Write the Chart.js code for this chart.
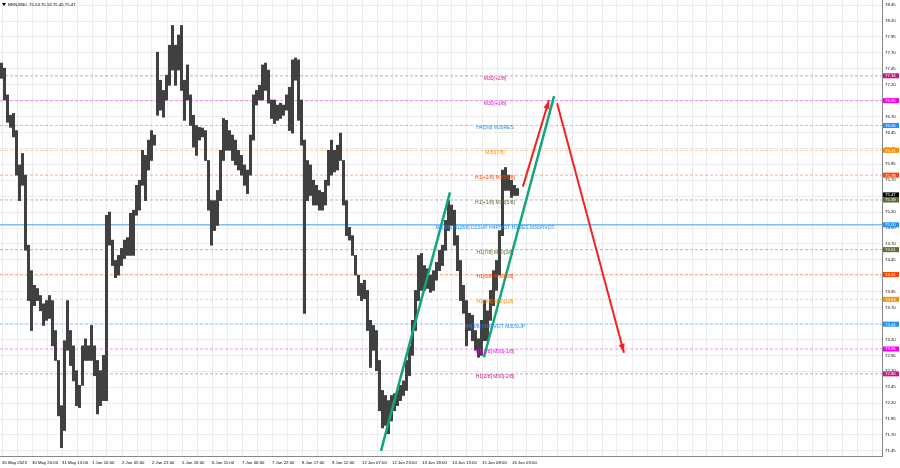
<!DOCTYPE html>
<html lang="en">
<head>
<meta charset="UTF-8">
<title>BRN,M30</title>
<script src="https://cdn.jsdelivr.net/npm/chart.js"></script>
<style>
  body { margin: 0; background: #fff; }
  #wrap { width: 900px; height: 468px; position: relative; }
</style>
</head>
<body>
<div id="wrap"><canvas id="chart"></canvas></div>
<script>
  // time labels under the chart (one every 10 columns)
  const timeLabels = ['30 May 2023', '30 May 20:00', '31 May 15:00', '1 Jun 10:00', '2 Jun 05:00',
    '2 Jun 21:00', '5 Jun 16:00', '6 Jun 11:00', '7 Jun 06:00', '7 Jun 22:00', '8 Jun 17:00',
    '9 Jun 12:00', '12 Jun 07:00', '12 Jun 23:00', '13 Jun 18:00', '14 Jun 13:00', '15 Jun 08:00',
    '16 Jun 03:00'];

  const yTicks = [78.45, 78.20, 77.95, 77.70, 77.45, 77.20, 76.95, 76.70, 76.45, 76.20, 75.95,
    75.70, 75.45, 75.20, 74.95, 74.70, 74.45, 74.20, 73.95, 73.70, 73.45, 73.20, 72.95, 72.70,
    72.45, 72.20, 71.95, 71.70, 71.45];

  // price range of each column (high / low)
  const highs = [77.54, 77.46, 77.04, 76.72, 76.75, 76.48, 75.94, 76.12, 75.78, 74.68,
    74.28, 74.05, 74.00, 73.89, 73.76, 73.81, 73.89, 73.81, 73.34, 72.87,
    72.16, 73.18, 73.81, 73.34, 73.10, 72.71, 72.48, 73.10, 73.21, 73.10,
    73.42, 73.10, 72.87, 72.71, 72.95, 75.15, 75.20, 74.76, 74.44, 74.52,
    74.63, 74.76, 74.80, 75.18, 75.23, 75.62, 75.70, 76.17, 76.09, 76.33,
    76.48, 76.41, 77.71, 77.27, 77.11, 77.35, 77.82, 78.13, 77.82, 77.98,
    78.13, 77.27, 77.51, 77.04, 76.72, 76.56, 76.53, 76.52, 76.48, 76.01,
    75.38, 75.38, 75.54, 76.17, 76.67, 76.64, 76.48, 76.41, 76.33, 76.17,
    76.09, 75.94, 75.86, 76.41, 77.04, 77.11, 77.19, 77.51, 77.54, 77.43,
    76.96, 76.96, 76.88, 76.91, 76.88, 77.04, 77.16, 77.59, 77.62, 77.59,
    76.96, 76.33, 76.01, 75.94, 75.70, 75.62, 75.54, 75.51, 75.70, 76.17,
    76.33, 76.17, 76.25, 76.44, 76.01, 75.38, 74.96, 74.83, 74.52, 74.21,
    74.08, 74.13, 73.97, 73.50, 73.42, 73.34, 72.87, 72.40, 72.32, 72.24,
    72.32, 72.35, 72.40, 72.48, 72.55, 72.87, 73.10, 73.50, 73.97, 74.52,
    74.55, 74.36, 74.31, 74.21, 74.28, 74.41, 74.60, 74.68, 75.07, 75.38,
    75.31, 75.23, 74.83, 74.44, 74.05, 73.81, 73.61, 73.58, 73.34, 73.21,
    73.50, 73.81, 73.65, 73.97, 74.28, 74.44, 74.91, 75.86, 75.90, 75.78,
    75.70, 75.62, 75.57];
  const lows = [77.30, 76.96, 76.61, 76.53, 76.38, 75.78, 75.38, 75.62, 74.60, 73.81,
    73.34, 73.73, 73.81, 73.65, 73.42, 73.50, 73.53, 73.10, 72.87, 72.00,
    71.50, 71.77, 73.03, 72.79, 72.55, 72.16, 72.13, 72.48, 72.87, 72.87,
    72.87, 72.63, 72.03, 72.16, 72.24, 72.24, 74.68, 74.36, 74.17, 74.21,
    74.36, 74.47, 74.52, 74.52, 74.52, 75.15, 75.23, 75.62, 75.38, 75.86,
    76.01, 76.25, 76.72, 76.80, 76.69, 76.96, 77.19, 77.43, 77.19, 77.43,
    77.11, 76.64, 76.96, 76.56, 76.22, 76.09, 76.33, 76.38, 76.01, 75.23,
    74.68, 74.91, 74.99, 75.38, 76.01, 76.17, 76.17, 76.01, 75.94, 75.86,
    75.78, 75.62, 75.49, 75.78, 76.33, 76.88, 76.96, 76.96, 77.11, 76.91,
    76.67, 76.59, 76.64, 76.67, 76.72, 76.80, 76.48, 76.44, 77.27, 76.64,
    76.25, 73.61, 75.38, 75.46, 75.31, 75.31, 75.23, 75.23, 75.31, 75.62,
    75.78, 75.83, 75.86, 76.01, 75.31, 74.83, 74.76, 74.52, 74.21, 73.89,
    73.81, 73.84, 73.34, 72.76, 73.03, 72.71, 72.08, 71.81, 71.85, 71.72,
    71.92, 72.08, 72.16, 72.24, 72.32, 72.40, 72.63, 72.95, 73.34, 73.81,
    73.97, 73.97, 74.00, 73.94, 73.97, 74.13, 74.28, 74.36, 74.60, 74.91,
    74.99, 74.68, 74.28, 73.81, 73.61, 73.10, 73.34, 73.18, 73.03, 72.92,
    72.95, 73.18, 73.18, 73.50, 73.73, 73.97, 74.21, 74.83, 75.54, 75.54,
    75.43, 75.46, 75.46];

  // level lines
  const levels = [77.34, 76.95, 76.56, 76.17, 75.78, 75.39, 75.00, 74.61, 74.22, 73.83, 73.44, 73.05, 72.66];
  const levelColors = ['#c71585', '#ee00ee', '#1e90ff', '#ff8c00', '#ff4500', '#556b2f', '#1e90ff',
    '#556b2f', '#ff4500', '#ff8c00', '#1e90ff', '#ee00ee', '#c71585'];
  const levelNames = ['M30[+2/8]', 'M30[+1/8]', 'H4[5/8] M30RES', 'M30[7/8]', 'H1[+2/8] M30[6/8]',
    'H1[+1/8] M30[5/8]', 'M1[8/8] H1[8/8] D1SUP H4PIVOT H1RES M30PIVOT', 'H1[7/8] M30[3/8]',
    'H1[6/8] M30[2/8]', 'H1[5/8] M30[1/8]', 'H4[3/8] H1PIVOT M30SUP', 'H1[3/8] M30[-1/8]',
    'H1[2/8] M30[-2/8]'];
  const lastPrice = 75.47;
  const title = 'BRN,M30  75.53 75.53 75.45 75.47';

  // drawn trend lines and forecast arrows (column, price)
  const greenLine1 = [{x: 127, y: 71.45}, {x: 150, y: 75.51}];
  const greenLine2 = [{x: 161.3, y: 72.92}, {x: 184.7, y: 77.02}];
  const redArrow1 = [{x: 174.3, y: 75.60}, {x: 183, y: 76.96}];
  const redArrow2 = [{x: 185.7, y: 76.91}, {x: 208, y: 72.99}];

  const xMax = 294;
  const font = "'Liberation Sans', Arial, sans-serif";
  const small = 4.3;

  const datasets = [];
  levels.forEach((lv, i) => {
    const solid = lv === 75.00;
    datasets.push({
      type: 'line',
      data: [{x: 0, y: lv}, {x: xMax, y: lv}],
      borderColor: solid ? '#7dbdf7' : levelColors[i] + '70',
      borderWidth: solid ? 1.5 : 1,
      borderDash: solid ? [] : [3, 2],
      pointRadius: 0,
      order: 3
    });
  });
  datasets.push({
    type: 'bar',
    data: highs.map((h, i) => ({x: i + 0.5, y: [lows[i], h]})),
    backgroundColor: '#404040',
    barThickness: 2.4,
    order: 2
  });
  [greenLine1, greenLine2].forEach(d => datasets.push({
    type: 'line', data: d, borderColor: '#12a57e', borderWidth: 2.5, pointRadius: 0, order: 1
  }));
  [redArrow1, redArrow2].forEach(d => datasets.push({
    type: 'line', data: d, borderColor: '#f52020', borderWidth: 2, pointRadius: 0, order: 1, arrow: true
  }));

  const noPad = s => { s.paddingLeft = 0; s.paddingRight = 0; s.paddingTop = 0; s.paddingBottom = 0; };

  const overlay = {
    id: 'overlay',
    afterDatasetsDraw(chart) {
      const ctx = chart.ctx, xs = chart.scales.x, ys = chart.scales.y;
      ctx.save();
      // arrow heads
      chart.data.datasets.forEach((ds, i) => {
        if (!ds.arrow) return;
        const pts = chart.getDatasetMeta(i).data;
        const a = pts[0], b = pts[pts.length - 1];
        const ang = Math.atan2(b.y - a.y, b.x - a.x);
        ctx.fillStyle = ds.borderColor;
        ctx.beginPath();
        ctx.moveTo(b.x, b.y);
        ctx.lineTo(b.x - 9 * Math.cos(ang) + 3 * Math.sin(ang), b.y - 9 * Math.sin(ang) - 3 * Math.cos(ang));
        ctx.lineTo(b.x - 9 * Math.cos(ang) - 3 * Math.sin(ang), b.y - 9 * Math.sin(ang) + 3 * Math.cos(ang));
        ctx.closePath();
        ctx.fill();
      });
      // level names
      ctx.font = '5px ' + font;
      ctx.textAlign = 'center';
      ctx.textBaseline = 'middle';
      levels.forEach((lv, i) => {
        ctx.fillStyle = levelColors[i];
        ctx.fillText(levelNames[i], xs.getPixelForValue(165), ys.getPixelForValue(lv) + 2.5);
      });
      ctx.restore();
    },
    afterDraw(chart) {
      const ctx = chart.ctx, ys = chart.scales.y, area = chart.chartArea;
      ctx.save();
      ctx.font = small + 'px ' + font;
      ctx.textBaseline = 'middle';
      ctx.textAlign = 'left';
      const box = (v, c) => {
        const y = ys.getPixelForValue(v);
        ctx.fillStyle = c;
        ctx.fillRect(area.right + 1, y - 2.5, 16, 5);
        ctx.fillStyle = '#fff';
        ctx.fillText(v.toFixed(2), area.right + 3, y + 0.3);
      };
      levels.forEach((lv, i) => box(lv, levelColors[i]));
      box(lastPrice, '#000');
      // title
      ctx.fillStyle = '#000';
      ctx.beginPath();
      ctx.moveTo(2, 3); ctx.lineTo(6, 3); ctx.lineTo(4, 6); ctx.closePath();
      ctx.fill();
      ctx.fillText(title, 8, 5);
      ctx.restore();
    }
  };

  new Chart(document.getElementById('chart'), {
    type: 'bar',
    data: {datasets: datasets},
    plugins: [overlay],
    options: {
      responsive: true,
      maintainAspectRatio: false,
      animation: false,
      layout: {padding: 0},
      plugins: {legend: {display: false}, tooltip: {enabled: false}},
      scales: {
        x: {
          type: 'linear',
          offset: false,
          min: 0,
          max: xMax,
          afterBuildTicks: s => {
            const t = [];
            for (let k = 0; k * 15 + 2 < 882; k++) t.push({value: (k * 15 + 2) / 3});
            s.ticks = t;
          },
          afterFit: s => { s.height = 12; noPad(s); },
          ticks: {
            autoSkip: false, maxRotation: 0, align: 'start', padding: 4,
            color: '#000', font: {family: font, size: small},
            callback: (v, i) => (i % 2 === 0 && timeLabels[i / 2]) ? timeLabels[i / 2] : ''
          },
          grid: {color: '#ececec', drawTicks: false, offset: false},
          border: {color: '#888'}
        },
        y: {
          position: 'right',
          min: 71.37,
          max: 78.53,
          afterBuildTicks: s => { s.ticks = yTicks.map(v => ({value: v})); },
          afterFit: s => { s.width = 18; noPad(s); },
          ticks: {
            padding: 3, color: '#000', font: {family: font, size: small},
            callback: v => v.toFixed(2)
          },
          grid: {color: '#ececec', drawTicks: false},
          border: {color: '#888'}
        }
      }
    }
  });
</script>
</body>
</html>
